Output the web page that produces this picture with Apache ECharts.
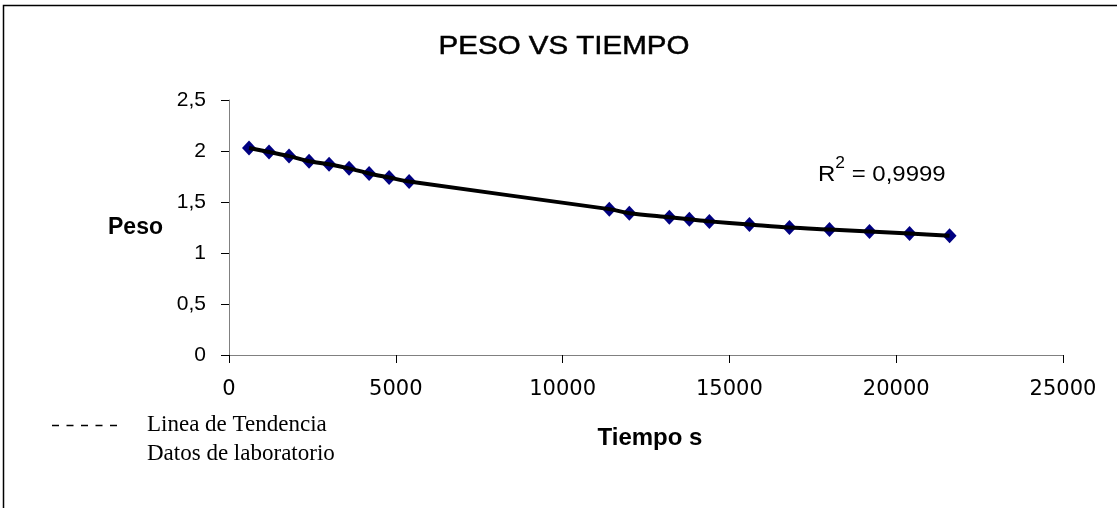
<!DOCTYPE html>
<html>
<head>
<meta charset="utf-8">
<title>Peso vs Tiempo</title>
<script src="https://cdn.jsdelivr.net/npm/echarts@6/dist/echarts.min.js"></script>
<style>
  html, body { margin: 0; padding: 0; background: #ffffff; }
  #chart { width: 1117px; height: 508px; }
</style>
</head>
<body>
<div id="chart"></div>
<script>
// Tiempo (s) y peso medido en el laboratorio
const tiempo = [600, 1200, 1800, 2400, 3000, 3600, 4200, 4800, 5400,
                11400, 12000, 13200, 13800, 14400, 15600, 16800, 18000, 19200, 20400, 21600];
const peso = [2.03, 1.99, 1.95, 1.90, 1.87, 1.83, 1.78, 1.74, 1.70,
              1.43, 1.39, 1.35, 1.33, 1.31, 1.28, 1.25, 1.23, 1.21, 1.19, 1.17];

// Ejes
const xTicks = [0, 5000, 10000, 15000, 20000, 25000];
const yTicks = [0, 0.5, 1, 1.5, 2, 2.5];

const titulo = 'PESO VS TIEMPO';
const r2 = '0,9999';
const leyenda = ['Linea de Tendencia', 'Datos de laboratorio'];

const puntos = tiempo.map((t, i) => [t, peso[i]]);

const sans = '"Liberation Sans", Arial, sans-serif';
const wide = '"DejaVu Sans", "Liberation Sans", sans-serif';
const serif = '"Liberation Serif", "Times New Roman", serif';
const axisColor = '#808080';

const chart = echarts.init(document.getElementById('chart'), null, { renderer: 'canvas' });

chart.setOption({
  animation: false,
  backgroundColor: '#ffffff',
  grid: { left: 229, right: 54, top: 100, bottom: 153, containLabel: false },
  xAxis: {
    type: 'value',
    min: xTicks[0],
    max: xTicks[xTicks.length - 1],
    interval: xTicks[1] - xTicks[0],
    name: 'Tiempo s',
    nameLocation: 'middle',
    nameGap: 71,
    nameTextStyle: { fontFamily: sans, fontSize: 24, fontWeight: 'bold', color: '#000', padding: [0, 0, 0, 8] },
    axisLine: { onZero: false, lineStyle: { color: axisColor, width: 1 } },
    axisTick: { show: true, inside: false, length: 8, lineStyle: { color: '#000' } },
    axisLabel: { margin: 24, fontFamily: wide, fontSize: 21, color: '#000', formatter: v => String(v) },
    splitLine: { show: false }
  },
  yAxis: {
    type: 'value',
    min: yTicks[0],
    max: yTicks[yTicks.length - 1],
    interval: yTicks[1] - yTicks[0],
    name: 'Peso',
    nameLocation: 'middle',
    nameRotate: 0,
    nameGap: 66,
    nameTextStyle: { fontFamily: sans, fontSize: 23, fontWeight: 'bold', color: '#000', align: 'right', verticalAlign: 'middle' },
    axisLine: { show: true, lineStyle: { color: axisColor, width: 1 } },
    axisTick: { show: true, inside: false, length: 8, lineStyle: { color: '#000' } },
    axisLabel: {
      margin: 23, fontFamily: sans, fontSize: 21, color: '#000',
      formatter: v => String(v).replace('.', ',')
    },
    splitLine: { show: false }
  },
  series: [
    {
      name: leyenda[1],
      type: 'scatter',
      data: puntos,
      symbol: 'diamond',
      symbolSize: [14, 15],
      itemStyle: { color: '#000080', opacity: 1 },
      z: 2
    },
    {
      name: leyenda[0],
      type: 'line',
      data: puntos,
      showSymbol: false,
      smooth: 0.3,
      lineStyle: { color: '#000', width: 4 },
      z: 3
    }
  ],
  graphic: [
    // marco
    {
      type: 'polyline',
      shape: { points: [[3.5, 508], [3.5, 5.5], [1117, 5.5]] },
      style: { stroke: '#000', lineWidth: 1.5, fill: null },
      silent: true
    },
    // titulo
    {
      type: 'text',
      x: 564, y: 47,
      scaleX: 1.18,
      style: {
        text: titulo, fontFamily: sans, fontSize: 25, fill: '#000',
        stroke: '#000', lineWidth: 0.5,
        align: 'center', verticalAlign: 'middle'
      }
    },
    // coeficiente de determinacion
    {
      type: 'text',
      x: 818, y: 171,
      scaleX: 1.09,
      style: {
        text: '{r|R}{s|2}{r| = ' + r2 + '}',
        align: 'left', verticalAlign: 'middle',
        rich: {
          r: { fontFamily: sans, fontSize: 22, fill: '#000', lineHeight: 30, verticalAlign: 'bottom' },
          s: { fontFamily: sans, fontSize: 16, fill: '#000', lineHeight: 30, verticalAlign: 'top' }
        }
      }
    },
    // leyenda
    {
      type: 'line',
      shape: { x1: 52, y1: 425.5, x2: 120, y2: 425.5 },
      style: { stroke: '#000', lineWidth: 1.6, lineDash: [7, 7.5] }
    },
    {
      type: 'text',
      x: 147, y: 425,
      style: { text: leyenda[0], fontFamily: serif, fontSize: 23, fill: '#000', align: 'left', verticalAlign: 'middle' }
    },
    {
      type: 'text',
      x: 147, y: 454,
      style: { text: leyenda[1], fontFamily: serif, fontSize: 23, fill: '#000', align: 'left', verticalAlign: 'middle' }
    }
  ]
});
</script>
</body>
</html>
